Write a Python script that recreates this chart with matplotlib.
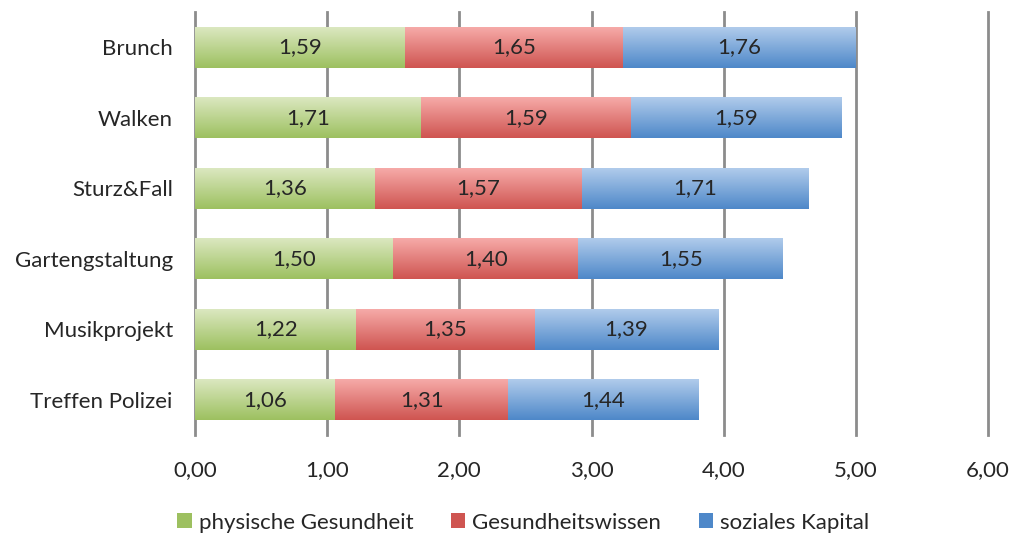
import numpy as np
import matplotlib.pyplot as plt
from matplotlib.colors import LinearSegmentedColormap

categories = ["Brunch", "Walken", "Sturz&Fall", "Gartengstaltung", "Musikprojekt", "Treffen Polizei"]
physisch = [1.59, 1.71, 1.36, 1.50, 1.22, 1.06]
wissen = [1.65, 1.59, 1.57, 1.40, 1.35, 1.31]
sozial = [1.76, 1.59, 1.71, 1.55, 1.39, 1.44]
series_names = ["physische Gesundheit", "Gesundheitswissen", "soziales Kapital"]
x_ticks = [0, 1, 2, 3, 4, 5, 6]

# light top -> darker bottom for each series
shades = [("#dbe8c0", "#9dc060"), ("#f6aaa8", "#cf5551"), ("#b0cbeb", "#4e88c9")]

plt.rcParams["font.family"] = ["Lato", "DejaVu Sans"]
text_col = "#262626"
fs = 16

fig = plt.figure(figsize=(10.12, 5.35), dpi=100)
ax = fig.add_axes([0.1927, 0.187, 0.7836, 0.7906])

n = len(categories)
ypos = np.arange(n)[::-1]
height = 0.58
grad = np.linspace(0, 1, 64).reshape(-1, 1)

left = np.zeros(n)
handles = []
for vals, name, (c_top, c_bot) in zip([physisch, wissen, sozial], series_names, shades):
    vals = np.array(vals)
    cmap = LinearSegmentedColormap.from_list(name, [c_top, c_bot])
    bars = ax.barh(ypos, vals, left=left, height=height, color=c_bot,
                   edgecolor="none", zorder=3, label=name)
    for b, v in zip(bars, vals):
        x0, y0 = b.get_x(), b.get_y()
        ax.imshow(grad, cmap=cmap, aspect="auto", origin="upper", zorder=4,
                  extent=(x0, x0 + b.get_width(), y0, y0 + b.get_height()))
        ax.text(x0 + b.get_width() / 2, y0 + b.get_height() / 2,
                f"{v:.2f}".replace(".", ","), ha="center", va="center",
                fontsize=fs, color=text_col, zorder=5)
    handles.append(plt.Rectangle((0, 0), 1, 1, facecolor=c_bot, edgecolor="none"))
    left = left + vals

ax.set_xlim(0, 6)
ax.set_ylim(-0.5, n - 0.5)
ax.set_xticks(x_ticks)
ax.set_xticklabels([f"{t:.2f}".replace(".", ",") for t in x_ticks])
ax.set_yticks(ypos)
ax.set_yticklabels(categories)
ax.tick_params(axis="both", length=0, labelsize=fs, labelcolor=text_col)
ax.tick_params(axis="x", pad=18)
ax.tick_params(axis="y", pad=16)

# vertical grid, unclipped so the line at 6 keeps its full width
for t in x_ticks[1:]:
    ax.axvline(t, color="#8c8c8c", linewidth=2, zorder=1, clip_on=False)
for s in ["top", "right", "bottom"]:
    ax.spines[s].set_visible(False)
ax.spines["left"].set_color("#8c8c8c")
ax.spines["left"].set_linewidth(2)

fig.legend(handles, series_names, loc="lower center", ncol=3, frameon=False,
           bbox_to_anchor=(0.517, -0.033), fontsize=fs, handlelength=0.65,
           handleheight=0.65, columnspacing=1.7, handletextpad=0.3,
           labelcolor=text_col)

fig.savefig("out.png", dpi=100)
